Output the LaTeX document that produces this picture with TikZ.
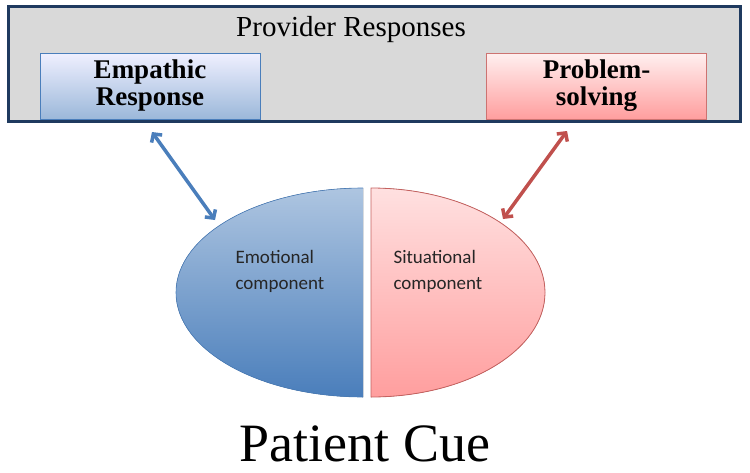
\documentclass[tikz,border=0pt]{standalone}
\usepackage{fontspec}
\setmainfont{Liberation Serif}
\newfontfamily\compfont{Carlito}
\usepackage{tikz}
\usetikzlibrary{arrows.meta}
\definecolor{navyrim}{HTML}{1F3A5F}
\definecolor{boxgray}{HTML}{D9D9D9}
\definecolor{empblue}{HTML}{4A7EBB}
\definecolor{probred}{HTML}{C0504D}

\tikzset{
  respbox/.style={draw,line width=0.8pt,minimum width=220pt,minimum height=66pt,align=center,font=\fontsize{27}{27}\selectfont\bfseries,inner sep=0pt},
  link/.style={line width=3.5pt,{Straight Barb[length=6pt,width=13pt]}-{Straight Barb[length=6pt,width=13pt]}},
  comptext/.style={align=left,font=\compfont\fontsize{19}{26}\selectfont,text=black!85,anchor=west}
}

\begin{document}
\begin{tikzpicture}[x=1pt,y=-1pt]
  \useasboundingbox (0,0) rectangle (750,472);

  %providers
  \node[draw=navyrim,line width=3pt,fill=boxgray,minimum width=732pt,minimum height=115pt,inner sep=0pt] (prov) at (374.5,64) {};
  \node[font=\fontsize{29}{29}\selectfont] (provtitle) at (351,30) {Provider Responses};
  \node[respbox,draw=empblue,top color=blue!6,bottom color=empblue!55] (emp) at (150,86) {Empathic\\Response};
  \node[respbox,draw=probred!80,top color=red!6,bottom color=red!38] (prob) at (596.5,86) {Problem-\\solving};

  %cue
  \fill[top color=empblue!45,bottom color=empblue] (363,188) arc[start angle=270,end angle=90,x radius=187,y radius=104.5] -- cycle;
  \draw[empblue,line width=0.6pt] (363,188) arc[start angle=270,end angle=90,x radius=187,y radius=104.5];
  \filldraw[draw=probred!90,line width=0.8pt,top color=red!12,bottom color=red!38] (371,188) arc[start angle=-90,end angle=90,x radius=174,y radius=104.5] -- cycle;
  \node[comptext] (emo) at (232,271) {Emotional\\component};
  \node[comptext] (sit) at (390,271) {Situational\\component};
  \node[font=\fontsize{54}{54}\selectfont] (cue) at (365,444) {Patient Cue};

  %links
  \coordinate (empend) at (215,220);
  \coordinate (probend) at (503,219);
  \coordinate (empstart) at (152,132);
  \coordinate (probstart) at (567,131);
  \draw[link,empblue] (empstart) -- (empend);
  \draw[link,probred] (probstart) -- (probend);
\end{tikzpicture}
\end{document}
